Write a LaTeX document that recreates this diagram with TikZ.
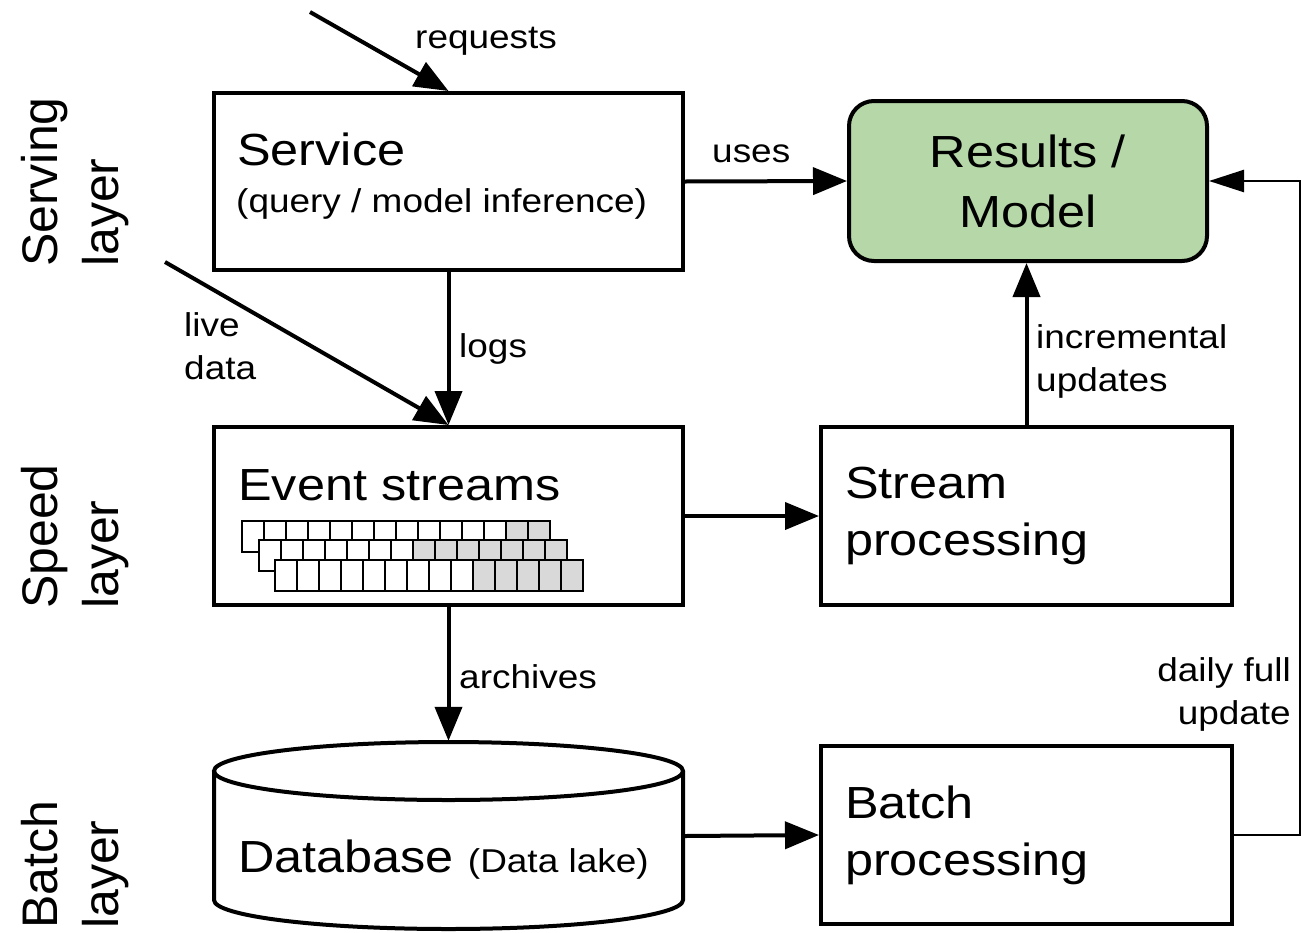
\documentclass[tikz,border=0pt]{standalone}
\usepackage{fontspec}
\setmainfont{Liberation Sans}[FakeStretch=1.12]
\newfontfamily\sidefam{Liberation Sans}
\usetikzlibrary{arrows.meta}
\definecolor{resgreen}{HTML}{B6D7A8}
\definecolor{cellgray}{HTML}{D9D9D9}
\newcommand\boxtxt{\fontsize{45}{57}\selectfont}
\newcommand\labtxt{\fontsize{33}{43}\selectfont}
\newcommand\sidetxt{\sidefam\fontsize{50}{61}\selectfont}
\tikzset{
  box/.style={draw,line width=4pt,inner sep=0pt,minimum height=178pt},
  lab/.style={inner sep=0pt,font=\labtxt},
  arr/.style={line width=4pt,-{Triangle[length=34pt,width=27pt]}},
  thinarr/.style={line width=2.5pt,-{Triangle[length=35pt,width=22pt]}},
  layer/.style={rotate=90,anchor=north west,inner sep=0pt,align=left,font=\sidetxt},
}
\begin{document}
\begin{tikzpicture}[x=1pt,y=-1pt]
  \useasboundingbox (0,0) rectangle (1301,932);
  % layer names
  \node[layer] (lserv) at (21,267) {Serving\\layer};
  \node[layer] (lspeed) at (21,609) {Speed\\layer};
  \node[layer] (lbatch) at (21,929) {Batch\\layer};
  % boxes
  \node[box,minimum width=469pt,minimum height=177pt] (srv) at (448.5,181.5) {};
  \node[box,minimum width=358pt,minimum height=160pt,rounded corners=25pt,fill=resgreen,
        align=center,font=\fontsize{45}{60}\selectfont] (res) at (1028,181) {Results /\\Model};
  \node[box,minimum width=469pt] (evt) at (448.5,516) {};
  \node[box,minimum width=411pt,text width=363pt,align=left,font=\boxtxt] (strm) at (1026.5,516) {Stream\\processing};
  \node[box,minimum width=411pt,text width=363pt,align=left,font=\boxtxt] (bat) at (1026.5,835) {Batch\\processing};
  % database (cylinder)
  \node[minimum width=473pt,minimum height=190pt,inner sep=0pt] (db) at (448.5,836) {};
  \draw[line width=4pt] (db.center) ++(0,-65) ellipse [x radius=234.5pt,y radius=29pt];
  \draw[line width=4pt] (db.center) ++(-234.5,-65) -- ++(0,129)
    arc[start angle=180,end angle=360,x radius=234.5pt,y radius=29pt] -- ++(0,-129);
  % box texts
  \node[anchor=base west,inner sep=0pt,font=\boxtxt] (srvt) at (237,165) {Service};
  \node[lab,anchor=base west] (srvs) at (236,212) {(query / model inference)};
  \node[anchor=base west,inner sep=0pt,font=\boxtxt] (evtt) at (238,500) {Event streams};
  \node[anchor=base west,inner sep=0pt,font=\boxtxt] (dbt) at (238,872) {Database {\labtxt (Data lake)}};
  % stream cells
  \foreach \xo/\yo/\nw in {242/521/12,259/540/7,275/560/9}
    \foreach \i in {0,...,13}{
      \ifnum\i<\nw\relax\def\cf{white}\else\def\cf{cellgray}\fi
      \draw[line width=2.5pt,fill=\cf] (\xo+22*\i,\yo) rectangle ++(22,31);
    }
  % connectors
  \coordinate (reqs) at (310,12);
  \coordinate (lives) at (165,262);
  \coordinate (loop) at (1300,835);
  \draw[arr] (reqs) -- (srv.north);
  \draw[arr] (srv.east) -- (res.west);
  \draw[arr] (srv.south) -- (evt.north);
  \draw[arr] (lives) -- (evt.north);
  \draw[arr] (evt.east) -- (strm.west);
  \draw[arr] (strm.north) -- (strm.north |- res.south);
  \draw[arr] (evt.south) -- (db.north);
  \draw[arr] (db.east) -- (bat.west);
  \draw[thinarr] (bat.east) -- (loop) |- (res.east);
  % labels
  \node[lab,anchor=base west] (lreq) at (415,48) {requests};
  \node[lab,anchor=base west] (luse) at (712,162) {uses};
  \node[lab,anchor=base west] (llog) at (459,357) {logs};
  \node[lab,anchor=west,align=left] (llive) at (184,346) {live\\data};
  \node[lab,anchor=west,align=left] (linc) at (1036,361) {incremental\\updates};
  \node[lab,anchor=base west] (larc) at (459,688) {archives};
  \node[lab,anchor=east,align=right] (ldaily) at (1291,694) {daily full\\update};
\end{tikzpicture}
\end{document}
